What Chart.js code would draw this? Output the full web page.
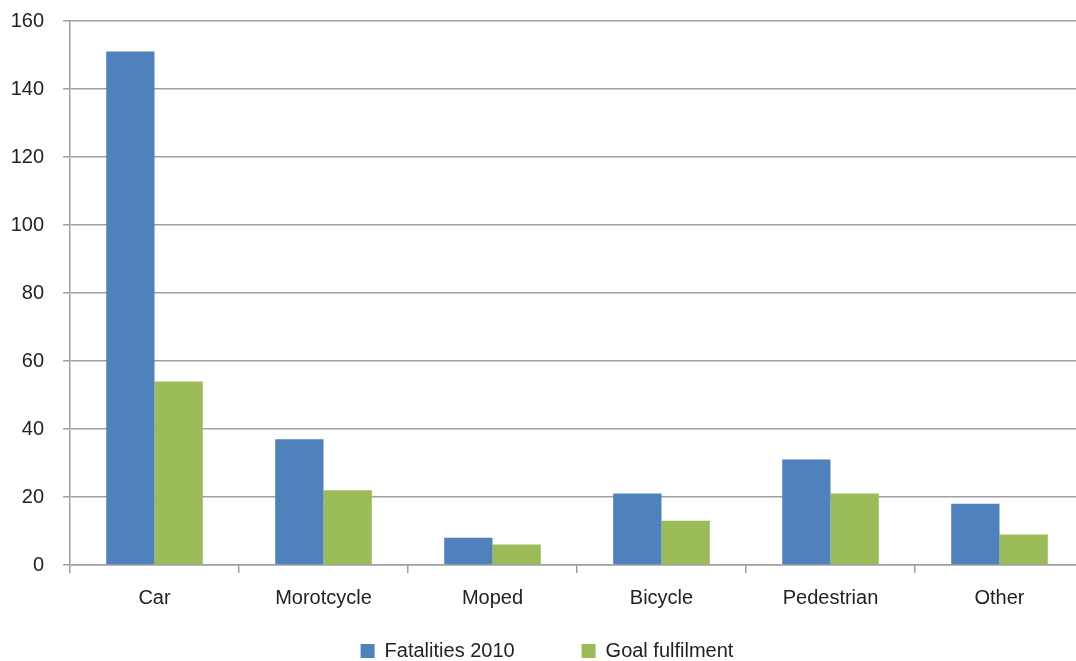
<!DOCTYPE html>
<html>
<head>
<meta charset="utf-8">
<script src="https://cdn.jsdelivr.net/npm/chart.js@4.4.0/dist/chart.umd.min.js"></script>
<style>
  html, body { margin: 0; padding: 0; background: #fff; overflow: hidden; }
  #wrap { width: 1100px; height: 671px; position: relative; }
</style>
</head>
<body>
<div id="wrap"><canvas id="c"></canvas></div>
<script>
const categories = ["Car", "Morotcycle", "Moped", "Bicycle", "Pedestrian", "Other"];
const fatalities2010 = [151, 37, 8, 21, 31, 18];
const goalFulfilment = [54, 22, 6, 13, 21, 9];
const seriesNames = ["Fatalities 2010", "Goal fulfilment"];
const yTicks = { min: 0, max: 160, step: 20 };

Chart.defaults.font.family = "'Liberation Sans', Arial, sans-serif";
Chart.defaults.color = "#222";

new Chart(document.getElementById('c'), {
  type: 'bar',
  data: {
    labels: categories,
    datasets: [
      { label: seriesNames[0], data: fatalities2010, backgroundColor: '#4F81BD', borderWidth: 0 },
      { label: seriesNames[1], data: goalFulfilment, backgroundColor: '#9BBB59', borderWidth: 0 }
    ]
  },
  options: {
    responsive: true,
    maintainAspectRatio: false,
    animation: false,
    layout: { padding: { top: 21, left: 10, right: 16, bottom: 0 } },
    datasets: { bar: { categoryPercentage: 2 / 3.5, barPercentage: 1 } },
    plugins: {
      tooltip: { enabled: false },
      legend: {
        position: 'bottom',
        labels: {
          boxWidth: 14, boxHeight: 14, padding: 28, font: { size: 20 }, color: '#222',
          generateLabels: chart => {
            const items = Chart.defaults.plugins.legend.labels.generateLabels(chart);
            items.forEach((it, i) => { if (i < items.length - 1) it.text = it.text + '       '; });
            return items;
          }
        }
      }
    },
    scales: {
      x: {
        grid: { display: true, drawOnChartArea: false, offset: true, tickLength: 8, color: '#a0a0a0', lineWidth: 1.5 },
        border: { display: true, color: '#a0a0a0', width: 1.5 },
        ticks: { font: { size: 20 }, color: '#222', padding: 13 },
        afterFit: s => { s.height = 48; }
      },
      y: {
        min: yTicks.min, max: yTicks.max,
        grid: { color: '#a0a0a0', lineWidth: 1.5, tickLength: 7 },
        border: { display: true, color: '#a0a0a0', width: 1.5 },
        ticks: { stepSize: yTicks.step, font: { size: 20 }, color: '#222', padding: 19 },
        afterFit: s => { s.width = 60; s.paddingTop = 0; s.paddingBottom = 0; }
      }
    }
  }
});
</script>
</body>
</html>
